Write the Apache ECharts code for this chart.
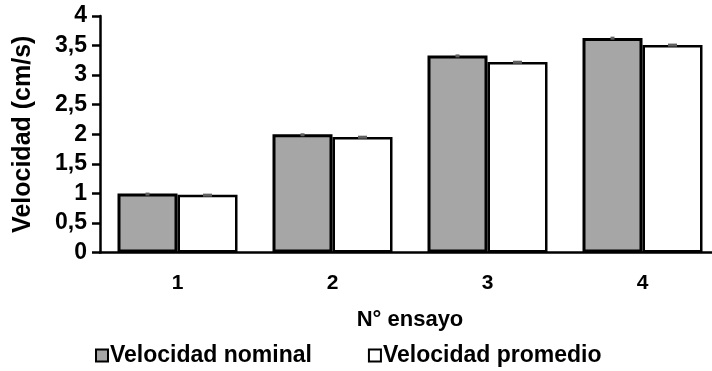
<!DOCTYPE html>
<html>
<head>
<meta charset="utf-8">
<script src="https://cdn.jsdelivr.net/npm/echarts@6/dist/echarts.min.js"></script>
<style>html,body{margin:0;padding:0;background:#fff;}#c{width:712px;height:371px;}</style>
</head>
<body>
<div id="c"></div>
<script>
var categories = ['1', '2', '3', '4'];
var nominal = [1.0, 2.0, 3.33, 3.63];
var promedio = [0.975, 1.955, 3.22, 3.51];
var nominalErr = [0.005, 0.008, 0.012, 0.012];
var promedioErr = [0.012, 0.012, 0.015, 0.015];
var yTicks = [0, 0.5, 1, 1.5, 2, 2.5, 3, 3.5, 4];

var BAR_W = 60;
var FONT = 'Liberation Sans, Arial, sans-serif';

function errSeries(vals, errs, side, w) {
  return {
    type: 'custom',
    z: 10,
    silent: true,
    data: vals.map(function (v, i) { return [i, v, errs[i]]; }),
    renderItem: function (params, api) {
      var i = api.value(0), v = api.value(1), e = api.value(2);
      var hi = api.coord([i, v + e]);
      var lo = api.coord([i, v - e]);
      var cx = hi[0] + side * BAR_W / 2;
      return {
        type: 'rect',
        shape: { x: cx - w / 2, y: hi[1] - 0.5, width: w, height: Math.max(3, lo[1] - hi[1]) },
        style: { fill: '#606060' }
      };
    }
  };
}

var chart = echarts.init(document.getElementById('c'));
chart.setOption({
  animation: false,
  backgroundColor: '#fff',
  grid: { left: 100, top: 16, right: -8, bottom: 118.5, outerBoundsMode: 'none' },
  legend: {
    data: ['Velocidad nominal', 'Velocidad promedio'],
    top: 339,
    left: 90,
    icon: 'rect',
    itemWidth: 12,
    itemHeight: 12,
    itemGap: 56,
    textStyle: { fontFamily: FONT, fontWeight: 'bold', fontSize: 23, color: '#000', padding: [0, 0, 0, -3] }
  },
  xAxis: {
    type: 'category',
    data: categories,
    name: 'N° ensayo',
    nameLocation: 'middle',
    nameGap: 56,
    nameTextStyle: { fontFamily: FONT, fontWeight: 'bold', fontSize: 22, color: '#000', verticalAlign: 'top' },
    axisLine: { lineStyle: { color: '#000', width: 2.5 } },
    axisTick: { show: false },
    axisLabel: { fontFamily: FONT, fontWeight: 'bold', fontSize: 21, color: '#000', margin: 20 },
    splitLine: { show: false }
  },
  yAxis: {
    type: 'value',
    min: yTicks[0],
    max: yTicks[yTicks.length - 1],
    interval: 0.5,
    name: 'Velocidad (cm/s)',
    nameLocation: 'middle',
    nameGap: 64,
    nameTextStyle: { fontFamily: FONT, fontWeight: 'bold', fontSize: 25, color: '#000' },
    axisLine: { show: true, lineStyle: { color: '#000', width: 2.5 } },
    axisTick: { show: true, inside: false, length: 8, lineStyle: { color: '#000', width: 2.5 } },
    axisLabel: {
      fontFamily: FONT, fontWeight: 'bold', fontSize: 23, color: '#000', margin: 13,
      formatter: function (v) { return String(v).replace('.', ','); }
    },
    splitLine: { show: false }
  },
  series: [
    {
      name: 'Velocidad nominal',
      type: 'bar',
      data: nominal,
      barWidth: BAR_W,
      barGap: '0%',
      itemStyle: { color: '#a6a6a6', borderColor: '#000', borderWidth: 3 }
    },
    {
      name: 'Velocidad promedio',
      type: 'bar',
      data: promedio,
      barWidth: BAR_W,
      barGap: '0%',
      itemStyle: { color: '#ffffff', borderColor: '#000', borderWidth: 2.5 }
    },
    errSeries(nominal, nominalErr, -1, 4),
    errSeries(promedio, promedioErr, 1, 9)
  ]
});
</script>
</body>
</html>
